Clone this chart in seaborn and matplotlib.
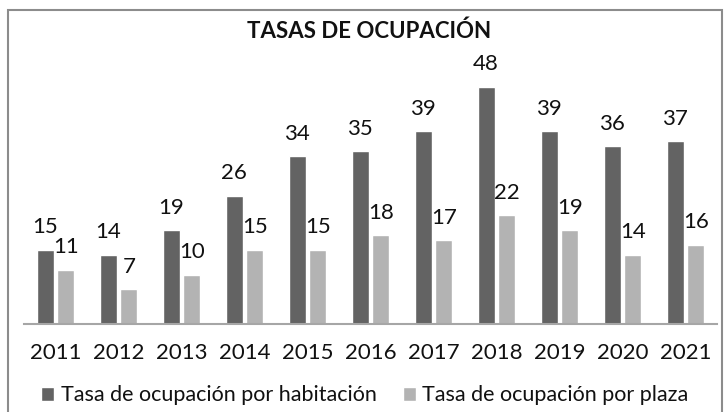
import matplotlib
matplotlib.use("Agg")
import matplotlib.pyplot as plt
from matplotlib.patches import Rectangle
import pandas as pd
import seaborn as sns

# Occupancy rates per year
years = ["2011", "2012", "2013", "2014", "2015", "2016",
         "2017", "2018", "2019", "2020", "2021"]
por_habitacion = [15, 14, 19, 26, 34, 35, 39, 48, 39, 36, 37]
por_plaza = [11, 7, 10, 15, 15, 18, 17, 22, 19, 14, 16]
series_names = ["Tasa de ocupación por habitación", "Tasa de ocupación por plaza"]
title = "TASAS DE OCUPACIÓN"

df = pd.DataFrame({
    "Año": years * 2,
    "Tasa": por_habitacion + por_plaza,
    "Serie": [series_names[0]] * len(years) + [series_names[1]] * len(years),
})

sns.set_theme(style="white")
plt.rcParams["font.family"] = ["Lato", "DejaVu Sans"]

fig = plt.figure(figsize=(7.25, 4.12), dpi=100)
ax = fig.add_axes([0.0331, 0.2136, 0.9559, 0.6232])

palette = {series_names[0]: "#636363", series_names[1]: "#b3b3b3"}
sns.barplot(data=df, x="Año", y="Tasa", hue="Serie", palette=palette,
            width=0.656, gap=0.19, errorbar=None, saturation=1,
            ax=ax, order=years, hue_order=series_names)

for cont in ax.containers:
    ax.bar_label(cont, fmt="%d", padding=9, fontsize=16, color="#111111")

ax.set_xlim(-0.5, len(years) - 0.5)
ax.set_ylim(0, 52)
ax.set_xlabel("")
ax.set_ylabel("")
ax.set_yticks([])
for side in ("top", "left", "right"):
    ax.spines[side].set_visible(False)
ax.spines["bottom"].set_color("#a6a6a6")
ax.spines["bottom"].set_linewidth(1.5)
ax.tick_params(axis="x", length=0, pad=14, labelsize=16, labelcolor="#111111")

handles, labels = ax.get_legend_handles_labels()
if ax.get_legend() is not None:
    ax.get_legend().remove()
fig.legend(handles, labels, loc="center left", bbox_to_anchor=(0.0566, 0.041),
           ncol=2, frameon=False, fontsize=15.5, borderpad=0, borderaxespad=0,
           handlelength=0.62, handleheight=0.62, handletextpad=0.3,
           columnspacing=1.2, labelcolor="#111111")

fig.text(0.5094, 0.925, title, ha="center", va="center",
         fontsize=16, fontweight="bold", color="#111111")

# Chart-area frame
fig.patches.append(Rectangle((7.5 / 725, -0.05), (721.5 - 7.5) / 725, 1.05 - 10 / 412,
                             transform=fig.transFigure, fill=False,
                             edgecolor="#8c8c8c", linewidth=1.5))

fig.savefig("out.png", dpi=100)
